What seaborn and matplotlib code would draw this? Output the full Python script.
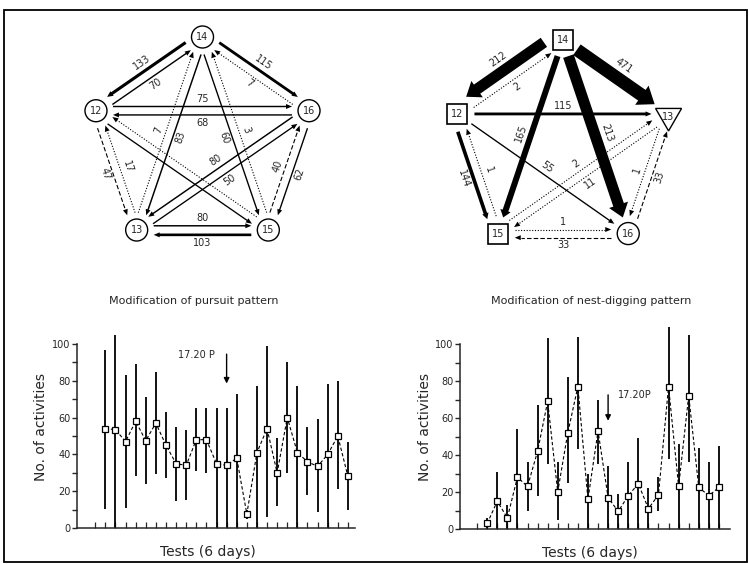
import numpy as np
import pandas as pd
import matplotlib
matplotlib.use('Agg')
import matplotlib.pyplot as plt
from matplotlib.patches import Circle, Rectangle, RegularPolygon
from matplotlib.ticker import FixedLocator
import seaborn as sns

# --- bottom panels: mean and range of activities per test ---
pursuit_mean = [54, 53.5, 47, 58, 47.5, 57, 45, 35, 34, 48, 48, 35, 34, 38, 7.6,
                41, 54, 30, 60, 41, 36, 33.5, 40, 50, 28]
pursuit_lo = [10.5, 0, 11, 28, 24, 29.5, 27, 14.5, 15, 31, 30, 0, 0, 0, 5,
              0, 6, 12, 30, 0, 18, 8.5, 0, 21, 10]
pursuit_hi = [97, 105, 83, 89, 71, 85, 63, 55, 53, 65, 65, 65, 65, 73, 10,
              77, 99, 49, 90, 77, 55, 59, 78, 80, 47]

dig_mean = [3, 15, 6, 28, 23, 42, 69, 20, 52, 77, 16, 53, 17, 9.5, 18, 24.5,
            11, 18.5, 77, 23, 72, 22.5, 18, 22.5]
dig_lo = [0, 0, 0, 0, 10, 18, 35, 5, 25, 43, 0, 35, 0, 0, 0, 0,
          0, 10, 38, 0, 36, 0, 0, 0]
dig_hi = [6, 31, 13, 54, 36, 67, 103, 36, 82, 104, 30, 70, 34, 19, 36, 49,
          22, 28, 109, 46, 105, 44, 36, 45]

marker_test = 13          # test where 17.20 P was given
title_left = 'Modification of pursuit pattern'
title_right = 'Modification of nest-digging pattern'

# --- top panels: transitions between animals ---
left_src = [14, 12, 14, 16, 12, 16, 12, 13, 13, 15, 16, 15, 14, 13, 14, 15, 16, 13, 12, 15]
left_dst = [12, 14, 16, 14, 16, 12, 13, 12, 15, 13, 15, 16, 13, 14, 15, 14, 13, 16, 15, 12]
left_val = [133, 70, 115, 7, 75, 68, 47, 17, 80, 103, 62, 40, 83, 7, 60, 3, 80, 50, np.nan, np.nan]
left_kind = ['-', '-', '-', ':', '-', '-', '--', ':', '-', '-', '-', '--', '-', ':', '-', ':', '-', '-', '-', ':']

right_src = [14, 12, 14, 14, 14, 12, 12, 12, 15, 15, 13, 13, 16, 15, 16]
right_dst = [12, 14, 13, 15, 16, 13, 16, 15, 12, 13, 15, 16, 13, 16, 15]
right_val = [212, 2, 471, 165, 213, 115, 55, 144, 1, 2, 11, 1, 33, 1, 33]
right_kind = ['-', ':', '-', '-', '-', '-', '-', '-', ':', ':', ':', ':', '--', ':', '--']

# layout: which side of the straight line each arrow / label sits on
left_side = [1, 1, -1, -1, -1, -1, 1, 1, -1, -1, -1, -1, -1, -1, 1, 1, 1, 1, 1, 1]
right_side = [1, 1, -1, 1, -1, -1, -1, 1, 1, -1, -1, 1, 1, -1, -1]

sns.set_style('ticks')
plt.rcParams['font.family'] = ['DejaVu Sans']

W, H = 749, 564
fig = plt.figure(figsize=(W / 100, H / 100), dpi=100)

# overlay in pixel coordinates for the diagrams and frame
ov = fig.add_axes([0, 0, 1, 1])
ov.set_xlim(0, W)
ov.set_ylim(H, 0)
ov.axis('off')
ov.patch.set_visible(False)


def pentagon(cx, cy, rx, ry, order):
    ang = np.deg2rad(90 - 72 * np.arange(5))
    return {n: np.array([cx + rx * np.cos(a), cy - ry * np.sin(a)]) for n, a in zip(order, ang)}


def edge_width(v):
    if np.isnan(v):
        v = 50
    return np.interp(v, [0, 85, 100, 140, 165, 200, 471], [1.1, 1.5, 2.6, 3.2, 6, 11, 13])


def draw_net(ax, pos, shapes, src, dst, val, kind, side):
    pairs = set(zip(src, dst))
    for s, d, v, k, sd in zip(src, dst, val, kind, side):
        p0, p1 = pos[s], pos[d]
        u = (p1 - p0) / np.linalg.norm(p1 - p0)
        n = np.array([-u[1], u[0]])
        w = edge_width(v)
        off = (3.5 + w / 2) if (d, s) in pairs else 0
        a = p0 + u * 17 + n * off * sd
        b = p1 - u * 17 + n * off * sd
        hl = max(6, 1.2 * w)
        hw = max(5, 1.8 * w)
        if k == '-':
            ax.arrow(a[0], a[1], *(b - a), width=w, head_width=hw, head_length=hl,
                     length_includes_head=True, fc='k', ec='none')
        else:
            c = b - u * hl
            ls = (0, (1, 1.5)) if k == ':' else (0, (4, 2))
            ax.plot([a[0], c[0]], [a[1], c[1]], linestyle=ls, color='k', lw=0.8)
            ax.arrow(c[0], c[1], *(b - c), width=0.01, head_width=hw, head_length=hl,
                     length_includes_head=True, fc='k', ec='none')
        if not np.isnan(v):
            m = a + (b - a) * 0.5 + n * sd * (w / 2 + 7)
            ang = np.degrees(np.arctan2(-u[1], u[0]))
            if ang > 90:
                ang -= 180
            if ang < -90:
                ang += 180
            ax.text(m[0], m[1], f'{v:g}', rotation=ang, rotation_mode='anchor',
                    ha='center', va='center', fontsize=7)
    for node, p in pos.items():
        shp = shapes.get(node, 'o')
        if shp == 'o':
            patch = Circle(p, 11, fc='white', ec='k', lw=1)
        elif shp == 's':
            patch = Rectangle(p - 10, 20, 20, fc='white', ec='k', lw=1.2)
        else:
            patch = RegularPolygon(p + [0, 2], 3, radius=15, fc='white', ec='k', lw=1)
        ax.add_patch(patch)
        ax.text(p[0], p[1] + (3 if shp == '^' else 0), str(node), ha='center', va='center', fontsize=7)


pos_left = pentagon(202.5, 143.7, 112, 106.7, [14, 16, 15, 13, 12])
pos_right = pentagon(563, 147, 111, 107, [14, 13, 16, 15, 12])
draw_net(ov, pos_left, {}, left_src, left_dst, left_val, left_kind, left_side)
draw_net(ov, pos_right, {14: 's', 12: 's', 15: 's', 16: 'o', 13: '^'},
         right_src, right_dst, right_val, right_kind, right_side)

# frame around the figure
ov.add_patch(Rectangle((4, 10), 743, 552, fill=False, ec='k', lw=1.3))

fig.text(194 / W, 1 - 301 / H, title_left, ha='center', va='center', fontsize=8)
fig.text(591 / W, 1 - 301 / H, title_right, ha='center', va='center', fontsize=8)


def line_panel(rect, mean, lo, hi, xmax, note_xy, arrow_y, label_x):
    ax = fig.add_axes(rect)
    df = pd.DataFrame({'test': np.arange(1, len(mean) + 1), 'mean': mean, 'lo': lo, 'hi': hi})
    ax.vlines(df['test'], df['lo'], df['hi'], color='k', lw=1.3, zorder=2)
    sns.lineplot(data=df, x='test', y='mean', ax=ax, color='k', lw=0.8,
                 linestyle=(0, (3, 2)), marker='s', markersize=5,
                 markerfacecolor='white', markeredgecolor='k', markeredgewidth=0.9, zorder=3)
    ax.set_xlim(*xmax)
    ax.set_ylim(0, 110)
    ax.set_xticks(np.arange(0, len(mean) + 1))
    ax.set_xticklabels([])
    ax.tick_params(axis='x', direction='in', length=4.5, width=0.9)
    ax.set_yticks(np.arange(0, 101, 20))
    ax.yaxis.set_minor_locator(FixedLocator(np.arange(10, 100, 20)))
    ax.tick_params(axis='y', which='both', direction='out', length=3.5, width=1,
                   labelsize=7, pad=1)
    sns.despine(ax=ax)
    ax.spines['left'].set_bounds(0, 100)
    for sp in ('left', 'bottom'):
        ax.spines[sp].set_linewidth(1.1)
    ax.set_xlabel('Tests (6 days)', fontsize=10)
    ax.set_ylabel('No. of activities', fontsize=10)
    ax.xaxis.set_label_coords(label_x, -0.085)
    ax.yaxis.set_label_coords(-0.105, 0.5)
    ax.patch.set_visible(False)
    ax.text(note_xy[0], note_xy[1], note_xy[2], fontsize=7, ha='left', va='center')
    ax.annotate('', xy=(marker_test, arrow_y[1]), xytext=(marker_test, arrow_y[0]),
                arrowprops=dict(arrowstyle='-|>', color='k', lw=1, mutation_scale=8))
    return ax


line_panel([77 / W, 36 / H, 278 / W, 202.4 / H], pursuit_mean, pursuit_lo, pursuit_hi,
           (-1.8, 25.7), (8.2, 94, '17.20 P'), (96, 77), 0.47)
line_panel([460 / W, 35 / H, 270 / W, 203.5 / H], dig_mean, dig_lo, dig_hi,
           (-1.7, 25.1), (14.0, 72.4, '17.20P'), (74, 57), 0.48)

fig.savefig('out.png', dpi=100)
